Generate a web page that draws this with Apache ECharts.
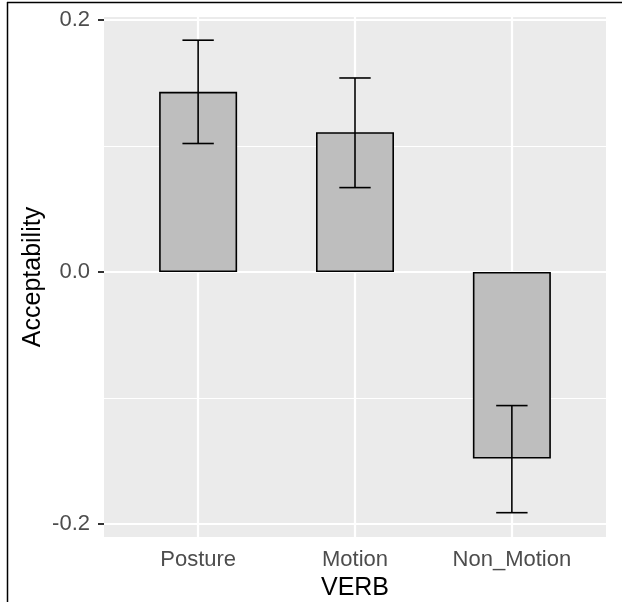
<!DOCTYPE html>
<html>
<head>
<meta charset="utf-8">
<script src="https://cdn.jsdelivr.net/npm/echarts@6/dist/echarts.min.js"></script>
<style>
  html, body { margin: 0; padding: 0; background: #fff; }
  #myChart { width: 622px; height: 602px; }
</style>
</head>
<body>
<div id="myChart"></div>
<script>
// categories and values
var categories = ["Posture", "Motion", "Non_Motion"];
var means = [0.143, 0.111, -0.148];
var lower = [0.102, 0.067, -0.191];
var upper = [0.184, 0.154, -0.106];
var yTicks = [-0.2, 0, 0.2];
var yMinor = [-0.1, 0.1];

var font = "Liberation Sans, Arial, Helvetica, sans-serif";

// categories sit at positions 1, 2, 3 (ggplot discrete scale)
var xPos = categories.map(function (c, i) { return i + 1; });
var barData = categories.map(function (c, i) { return [xPos[i], means[i]]; });
var errData = categories.map(function (c, i) { return [xPos[i], lower[i], upper[i]]; });

// grid lines, drawn under the bars
var gridLines = [];
yTicks.forEach(function (v) {
  gridLines.push({ yAxis: v, lineStyle: { color: "#fff", width: 2.2, type: "solid" } });
});
yMinor.forEach(function (v) {
  gridLines.push({ yAxis: v, lineStyle: { color: "#fff", width: 1, type: "solid" } });
});
xPos.forEach(function (v) {
  gridLines.push({ xAxis: v, lineStyle: { color: "#fff", width: 2.2, type: "solid" } });
});

var myChart = echarts.init(document.getElementById("myChart"));
var option = {
  animation: false,
  graphic: [
    // outer frame (top and left edges)
    { type: "line", shape: { x1: 7, y1: 2.5, x2: 622, y2: 2.5 }, style: { stroke: "#000", lineWidth: 1.5 } },
    { type: "line", shape: { x1: 7.5, y1: 2, x2: 7.5, y2: 602 }, style: { stroke: "#000", lineWidth: 1.5 } }
  ],
  grid: {
    left: 104,
    right: 16,
    top: 17,
    bottom: 65,
    outerBoundsMode: "none",
    containLabel: false,
    show: true,
    backgroundColor: "#EBEBEB",
    borderWidth: 0
  },
  xAxis: {
    type: "value",
    min: 0.4,
    max: 3.6,
    name: "VERB",
    nameLocation: "middle",
    nameGap: 39,
    nameMoveOverlap: false,
    nameTextStyle: { fontSize: 25, color: "#000", fontFamily: font },
    axisLine: { show: false },
    axisTick: { show: true, customValues: xPos, length: 6, lineStyle: { color: "#333", width: 2 } },
    axisLabel: {
      customValues: xPos,
      margin: 12,
      fontSize: 22,
      color: "#4D4D4D",
      fontFamily: font,
      formatter: function (v) { return categories[Math.round(v) - 1] || ""; }
    },
    splitLine: { show: false }
  },
  yAxis: {
    type: "value",
    min: -0.2103,
    max: 0.2024,
    name: "Acceptability",
    nameLocation: "middle",
    nameGap: 58,
    nameMoveOverlap: false,
    nameTextStyle: { fontSize: 25, color: "#000", fontFamily: font },
    axisLine: { show: false },
    axisTick: { show: true, customValues: yTicks, length: 6, lineStyle: { color: "#333", width: 2 } },
    axisLabel: {
      customValues: yTicks,
      margin: 14,
      fontSize: 22,
      color: "#4D4D4D",
      fontFamily: font,
      formatter: function (v) { return v.toFixed(1); }
    },
    splitLine: { show: false },
    minorSplitLine: { show: false }
  },
  series: [
    {
      type: "line",
      z: 1,
      data: [],
      silent: true,
      markLine: {
        z: 1,
        silent: true,
        symbol: ["none", "none"],
        label: { show: false },
        data: gridLines
      }
    },
    {
      type: "bar",
      z: 3,
      data: barData,
      barWidth: 78,
      itemStyle: { color: "#BEBEBE", borderColor: "#000", borderWidth: 1.6 }
    },
    {
      type: "custom",
      z: 4,
      data: errData,
      encode: { x: 0, y: [1, 2] },
      renderItem: function (params, api) {
        var lo = api.coord([api.value(0), api.value(1)]);
        var hi = api.coord([api.value(0), api.value(2)]);
        var half = api.size([1, 0])[0] * 0.1;
        var style = { stroke: "#000", lineWidth: 1.6 };
        return {
          type: "group",
          children: [
            { type: "line", shape: { x1: lo[0], y1: lo[1], x2: hi[0], y2: hi[1] }, style: style },
            { type: "line", shape: { x1: lo[0] - half, y1: lo[1], x2: lo[0] + half, y2: lo[1] }, style: style },
            { type: "line", shape: { x1: hi[0] - half, y1: hi[1], x2: hi[0] + half, y2: hi[1] }, style: style }
          ]
        };
      }
    }
  ]
};
myChart.setOption(option);
</script>
</body>
</html>
